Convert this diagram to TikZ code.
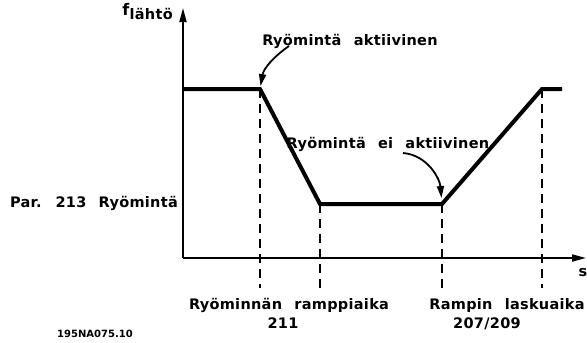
\documentclass[tikz,border=0pt]{standalone}
\usepackage{fontspec}
\setmainfont{DejaVu Sans}
\newfontfamily\piirto{DejaVu Sans}[LetterSpace=2,WordSpace=2.3]
\usetikzlibrary{arrows.meta}
\usetikzlibrary{positioning}

\begin{document}
\begin{tikzpicture}[x=1pt,y=-1pt,
  akseli/.style={line width=1.8pt,-{Triangle[length=14pt,width=7pt]}},
  kayra/.style={line width=4pt,line join=miter},
  apu/.style={line width=1.8pt,dash pattern=on 9pt off 6pt},
  nuoli/.style={line width=1.8pt,-{Triangle[length=12pt,width=7pt]}},
  teksti/.style={font=\piirto\bfseries\fontsize{14.5}{16}\selectfont,inner sep=0pt}]
\useasboundingbox (0,0) rectangle (587,343);
% akselit
\coordinate (o) at (183,258);
\coordinate (ytop) at (183,8);
\coordinate (xend) at (586,258);
\draw[akseli] (o)--(ytop);
\draw[akseli] (o)--(xend);
% kayra
\coordinate (a0) at (184,89);
\coordinate (a1) at (260,89);
\coordinate (a2) at (320,204);
\coordinate (a3) at (442,204);
\coordinate (a4) at (542,89);
\coordinate (a5) at (562,89);
\draw[kayra] (a0)--(a1)--(a2)--(a3)--(a4)--(a5);
% apuviivat
\coordinate (d1) at (260,288);
\coordinate (d2) at (320,288);
\coordinate (d3) at (442,288);
\coordinate (d4) at (542,288);
\draw[apu] (a1)--(d1);
\draw[apu] (a2)--(d2);
\draw[apu] (a3)--(d3);
\draw[apu] (a4)--(d4);
% tekstit
\node[teksti,anchor=base east] (lahto) at (173,19) {lähtö};
\node[teksti,font=\piirto\bfseries\fontsize{16}{18}\selectfont,anchor=base east] (f) at (lahto.base west) [yshift=4pt] {f};
\node[teksti] (on) at (350,41) {Ryömintä aktiivinen};
\node[teksti] (off) at (388,144) {Ryömintä ei aktiivinen};
\node[teksti,anchor=east] (par) at (178,203) {Par. 213 Ryömintä};
\node[teksti] (s) at (583,273) {s};
\node[teksti] (ramppi) at (289,305) {Ryöminnän ramppiaika};
\node[teksti,below=5pt of ramppi,xshift=-6pt] (r211) {211};
\node[teksti] (lasku) at (507,305) {Rampin laskuaika};
\node[teksti,below=5pt of lasku,xshift=-20pt] (r207) {207/209};
\node[font=\bfseries\fontsize{10}{12}\selectfont,inner sep=0pt] (koodi) at (95,334) {195NA075.10};
% nuolet
\coordinate (onTail) at (289,46);
\coordinate (offTail) at (403,153);
\draw[nuoli,shorten >=3pt] (onTail) to[out=215,in=80] (a1);
\draw[nuoli,shorten >=6pt] (offTail) to[out=-5,in=95] (a3);
\end{tikzpicture}
\end{document}
